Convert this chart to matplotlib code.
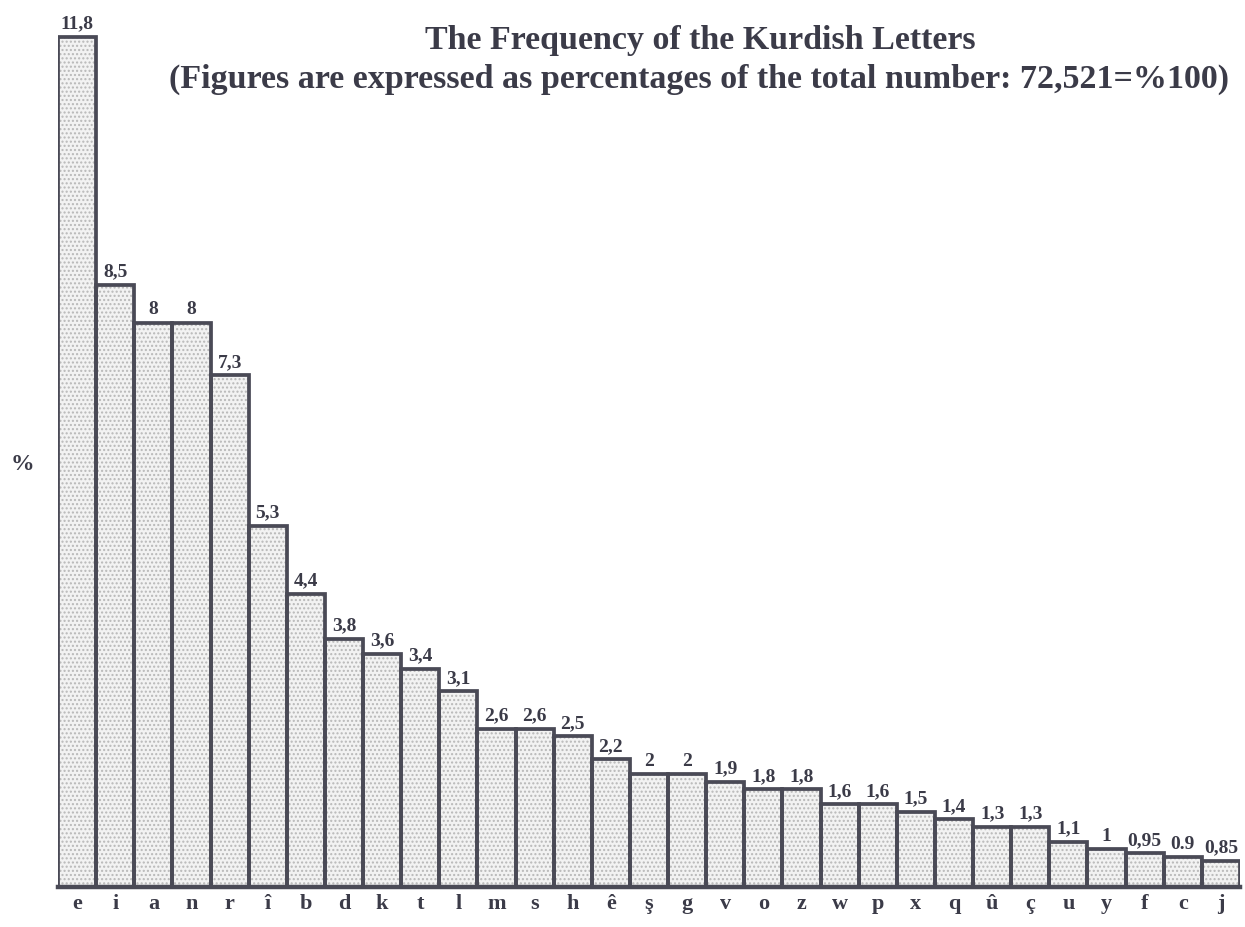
"""Fréquence des lettres kurdes : barres pointillées avec valeurs au-dessus."""
import matplotlib

matplotlib.use("Agg")
import matplotlib.pyplot as plt  # noqa: E402
import numpy as np  # noqa: E402

letters = ["e", "i", "a", "n", "r", "î", "b", "d", "k", "t", "l", "m", "s", "h", "ê",
           "ş", "g", "v", "o", "z", "w", "p", "x", "q", "û", "ç", "u", "y", "f", "c", "j"]
values = [11.8, 8.5, 8, 8, 7.3, 5.3, 4.4, 3.8, 3.6, 3.4, 3.1, 2.6, 2.6, 2.5, 2.2,
          2, 2, 1.9, 1.8, 1.8, 1.6, 1.6, 1.5, 1.4, 1.3, 1.3, 1.1, 1, 0.95, 0.9, 0.85]
value_labels = ["11,8", "8,5", "8", "8", "7,3", "5,3", "4,4", "3,8", "3,6", "3,4", "3,1",
                "2,6", "2,6", "2,5", "2,2", "2", "2", "1,9", "1,8", "1,8", "1,6", "1,6",
                "1,5", "1,4", "1,3", "1,3", "1,1", "1", "0,95", "0.9", "0,85"]

INK = "#3b3b48"
EDGE = "#4a4a56"
FONT = ["Liberation Serif", "DejaVu Serif"]

fig = plt.figure(figsize=(12.45, 9.28), dpi=100)
ax = fig.add_axes([58 / 1245, 40 / 928, 1182 / 1245, 888 / 928])

x = np.arange(len(letters))
# fond pointillé puis contour épais
ax.bar(x, values, width=1.0, color="#f2f2f2", edgecolor="#b8b8b8", hatch="....",
       linewidth=0, zorder=2)
ax.bar(x, values, width=1.0, facecolor="none", edgecolor=EDGE, linewidth=2.7, zorder=3)

ymin = 0.5
ax.set_xlim(-0.5, len(letters) - 0.5)
ax.set_ylim(ymin, 12.3)
ax.axhline(ymin, color=EDGE, lw=3.2, zorder=4, clip_on=False)

for xi, v, lab in zip(x, values, value_labels):
    ax.text(xi, v + 0.07, lab, ha="center", va="bottom", fontsize=14,
            fontweight="bold", family=FONT, color=INK)

ax.set_xticks(x)
ax.set_xticklabels(letters, fontsize=16, fontweight="bold", family=FONT, color=INK)
ax.tick_params(axis="x", length=0, pad=4)
ax.set_yticks([])
for s in ax.spines.values():
    s.set_visible(False)

fig.text(700 / 1245, 1 - 40 / 928, "The Frequency of the Kurdish Letters",
         ha="center", va="center", fontsize=24.5, fontweight="bold", family=FONT, color=INK)
fig.text(699 / 1245, 1 - 79 / 928,
         "(Figures are expressed as percentages of the total number: 72,521=%100)",
         ha="center", va="center", fontsize=24.5, fontweight="bold", family=FONT, color=INK)
fig.text(22 / 1245, 1 - 465 / 928, "%", ha="center", va="center", fontsize=17,
         fontweight="bold", family=FONT, color=INK)

fig.savefig("out.png", dpi=100)
plt.close(fig)
